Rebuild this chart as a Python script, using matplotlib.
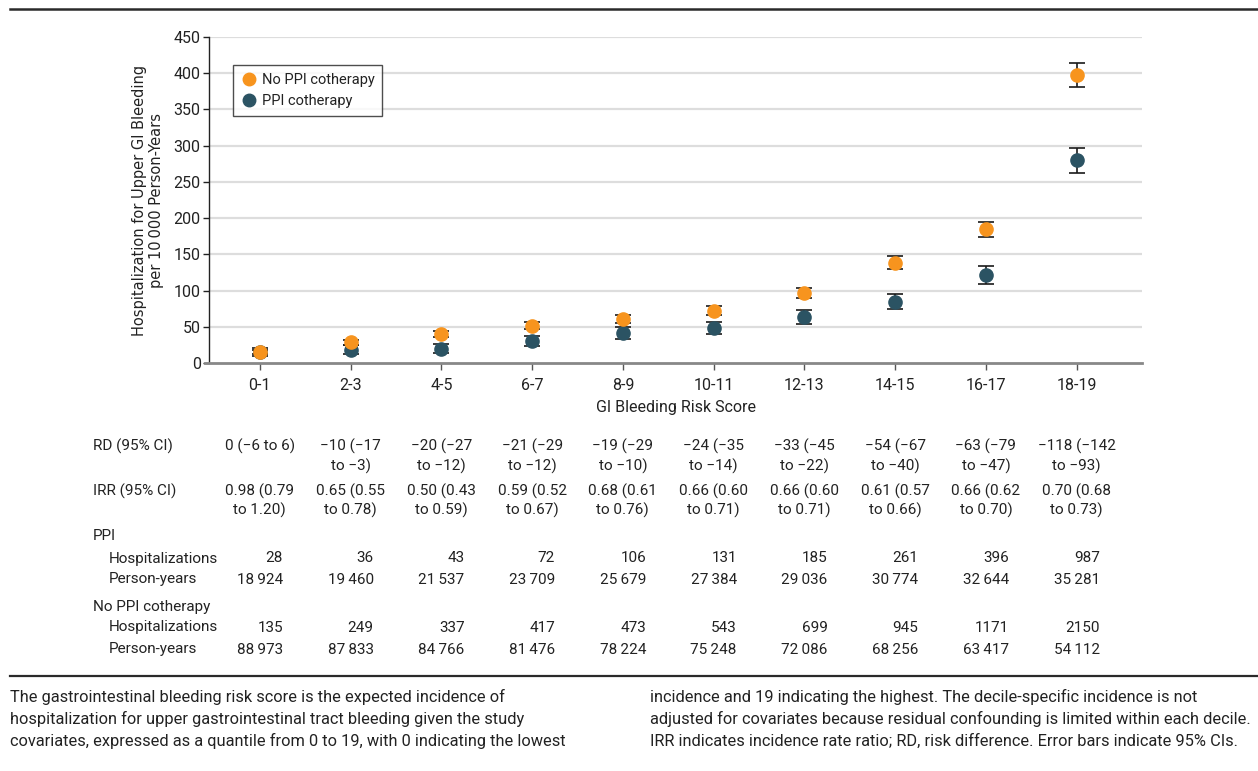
import matplotlib
matplotlib.use("Agg")
import matplotlib.pyplot as plt
from matplotlib import font_manager
from matplotlib.lines import Line2D
import matplotlib.transforms as mtransforms

# ---------------- data ----------------
categories = ["0-1", "2-3", "4-5", "6-7", "8-9", "10-11", "12-13", "14-15", "16-17", "18-19"]

no_ppi_rate = [15.2, 28.3, 39.8, 51.2, 60.5, 72.2, 97.0, 138.4, 184.7, 397.3]
no_ppi_low = [12.6, 24.8, 35.5, 46.3, 55.0, 66.1, 89.8, 129.6, 174.1, 380.5]
no_ppi_high = [17.7, 31.9, 44.0, 56.1, 66.0, 78.2, 104.2, 147.3, 195.3, 414.1]

ppi_rate = [14.8, 18.5, 20.0, 30.4, 41.3, 47.8, 63.7, 84.8, 121.3, 279.8]
ppi_low = [9.3, 12.5, 14.0, 23.4, 33.4, 39.6, 54.5, 74.5, 109.4, 262.4]
ppi_high = [20.3, 24.5, 26.0, 37.4, 49.1, 56.0, 72.9, 95.1, 133.3, 297.2]

rd_text = ["0 (−6 to 6)", "−10 (−17\nto −3)", "−20 (−27\nto −12)", "−21 (−29\nto −12)",
           "−19 (−29\nto −10)", "−24 (−35\nto −14)", "−33 (−45\nto −22)", "−54 (−67\nto −40)",
           "−63 (−79\nto −47)", "−118 (−142\nto −93)"]
irr_text = ["0.98 (0.79\nto 1.20)", "0.65 (0.55\nto 0.78)", "0.50 (0.43\nto 0.59)",
            "0.59 (0.52\nto 0.67)", "0.68 (0.61\nto 0.76)", "0.66 (0.60\nto 0.71)",
            "0.66 (0.60\nto 0.71)", "0.61 (0.57\nto 0.66)", "0.66 (0.62\nto 0.70)",
            "0.70 (0.68\nto 0.73)"]
ppi_hosp = ["28", "36", "43", "72", "106", "131", "185", "261", "396", "987"]
ppi_py = ["18\u2009924", "19\u2009460", "21\u2009537", "23\u2009709", "25\u2009679",
          "27\u2009384", "29\u2009036", "30\u2009774", "32\u2009644", "35\u2009281"]
noppi_hosp = ["135", "249", "337", "417", "473", "543", "699", "945", "1171", "2150"]
noppi_py = ["88\u2009973", "87\u2009833", "84\u2009766", "81\u2009476", "78\u2009224",
            "75\u2009248", "72\u2009086", "68\u2009256", "63\u2009417", "54\u2009112"]

yticks = [0, 50, 100, 150, 200, 250, 300, 350, 400, 450]

caption_left = ("The gastrointestinal bleeding risk score is the expected incidence of\n"
                "hospitalization for upper gastrointestinal tract bleeding given the study\n"
                "covariates, expressed as a quantile from 0 to 19, with 0 indicating the lowest")
caption_right = ("incidence and 19 indicating the highest. The decile-specific incidence is not\n"
                 "adjusted for covariates because residual confounding is limited within each decile.\n"
                 "IRR indicates incidence rate ratio; RD, risk difference. Error bars indicate 95% CIs.")

# ---------------- fonts ----------------
avail = {f.name for f in font_manager.fontManager.ttflist}
def pick(*names):
    out = [n for n in names if n in avail]
    return out + ["DejaVu Sans"]

MAIN = pick("Roboto", "Liberation Sans")
YLAB = pick("DejaVu Sans")
CAP = pick("Roboto", "Liberation Sans")
plt.rcParams["font.family"] = MAIN

ORANGE = "#F7941E"
TEAL = "#2B5363"
TXT = "#222222"

W, H = 1258, 771
fig = plt.figure(figsize=(W / 100, H / 100), dpi=100)

def fy(py):
    return 1 - py / H

def fx(px):
    return px / W

ax = fig.add_axes([fx(209), fy(363), fx(1142) - fx(209), fy(37) - fy(363)])

x = list(range(len(categories)))

def yerr(rate, lo, hi):
    return [[r - l for r, l in zip(rate, lo)], [h - r for r, h in zip(rate, hi)]]

ax.errorbar(x, ppi_rate, yerr=yerr(ppi_rate, ppi_low, ppi_high), fmt="o", color=TEAL,
            ecolor="#1a1a1a", elinewidth=1.2, capsize=6, capthick=1.2, markersize=9.5,
            zorder=3)
ax.errorbar(x, no_ppi_rate, yerr=yerr(no_ppi_rate, no_ppi_low, no_ppi_high), fmt="o",
            color=ORANGE, ecolor="#1a1a1a", elinewidth=1.2, capsize=6, capthick=1.2,
            markersize=9.5, zorder=4)

ax.set_xlim(-0.56, 9.72)
ax.set_ylim(0, 450)
ax.set_yticks(yticks)
ax.set_xticks(x)
ax.set_xticklabels(categories)
ax.tick_params(axis="both", labelsize=11.5, colors=TXT)
ax.tick_params(axis="x", length=5, width=1, color="#555555", pad=6)
ax.tick_params(axis="y", length=4, width=1, color="#222222", pad=2)
for yv in yticks[1:]:
    ax.axhline(yv, color="#dddddd", linewidth=1.6, zorder=0)
for s in ["top", "right"]:
    ax.spines[s].set_visible(False)
ax.spines["left"].set_color("#222222")
ax.spines["left"].set_linewidth(1.0)
ax.spines["bottom"].set_color("#888888")
ax.spines["bottom"].set_linewidth(2.0)
ax.spines["bottom"].set_bounds(-0.6, 9.72)

ax.set_xlabel("GI Bleeding Risk Score", fontsize=11.5, color=TXT, labelpad=5)
ax.set_ylabel("Hospitalization for Upper GI Bleeding\nper 10\u2009000 Person-Years",
              fontsize=10.5, color=TXT, family=YLAB, labelpad=7, linespacing=1.15)

h_no = Line2D([], [], linestyle="none", marker="o", markersize=9, color=ORANGE)
h_ppi = Line2D([], [], linestyle="none", marker="o", markersize=9, color=TEAL)
leg = ax.legend([h_no, h_ppi], ["No PPI cotherapy", "PPI cotherapy"],
                loc="upper left", bbox_to_anchor=(0.026, 0.914), borderaxespad=0,
                fontsize=10.5, frameon=True, fancybox=False, edgecolor="#222222",
                handletextpad=0.4, borderpad=0.55, labelspacing=0.45, handlelength=1.0)
leg.get_frame().set_linewidth(1.0)
for t in leg.get_texts():
    t.set_color(TXT)

# ---------------- table ----------------
blend = mtransforms.blended_transform_factory(ax.transData, fig.transFigure)
FS = 11
RIGHT_OFF = 0.255  # in category units

def label(px, py, s):
    fig.text(fx(px), fy(py + 5.5), s, fontsize=FS, color=TXT, ha="left", va="baseline")

label(93, 445, "RD (95% CI)")
label(93, 490, "IRR (95% CI)")
label(93, 535, "PPI")
label(109, 557, "Hospitalizations")
label(109, 578, "Person-years")
label(93, 605, "No PPI cotherapy")
label(109, 626, "Hospitalizations")
label(109, 648, "Person-years")

def multi(i, s, py1, py2):
    lines = s.split("\n")
    ys = [py1, py2]
    for ln, py in zip(lines, ys):
        ax.text(i, fy(py + 5.5), ln, transform=blend, fontsize=FS, color=TXT,
                ha="center", va="baseline", clip_on=False)

for i in x:
    multi(i, rd_text[i], 445, 465)
    multi(i, irr_text[i], 490, 509)
    for s, py in [(ppi_hosp[i], 557), (ppi_py[i], 578), (noppi_hosp[i], 626), (noppi_py[i], 648)]:
        ax.text(i + RIGHT_OFF, fy(py + 5.5), s, transform=blend, fontsize=FS, color=TXT,
                ha="right", va="baseline", clip_on=False)

# ---------------- rules ----------------
fig.add_artist(Line2D([fx(10), 1.0], [fy(8.5), fy(8.5)], color="#2a2a2a", linewidth=1.8))
fig.add_artist(Line2D([fx(10), 1.0], [fy(676), fy(676)], color="#2a2a2a", linewidth=1.6))

# ---------------- caption ----------------
for j, (l, r) in enumerate(zip(caption_left.split("\n"), caption_right.split("\n"))):
    base = 702 + 22 * j
    fig.text(fx(10), fy(base), l, fontsize=11.75, color=TXT, family=CAP, ha="left", va="baseline")
    fig.text(fx(650), fy(base), r, fontsize=11.75, color=TXT, family=CAP, ha="left", va="baseline")

fig.savefig("out.png", dpi=100)
